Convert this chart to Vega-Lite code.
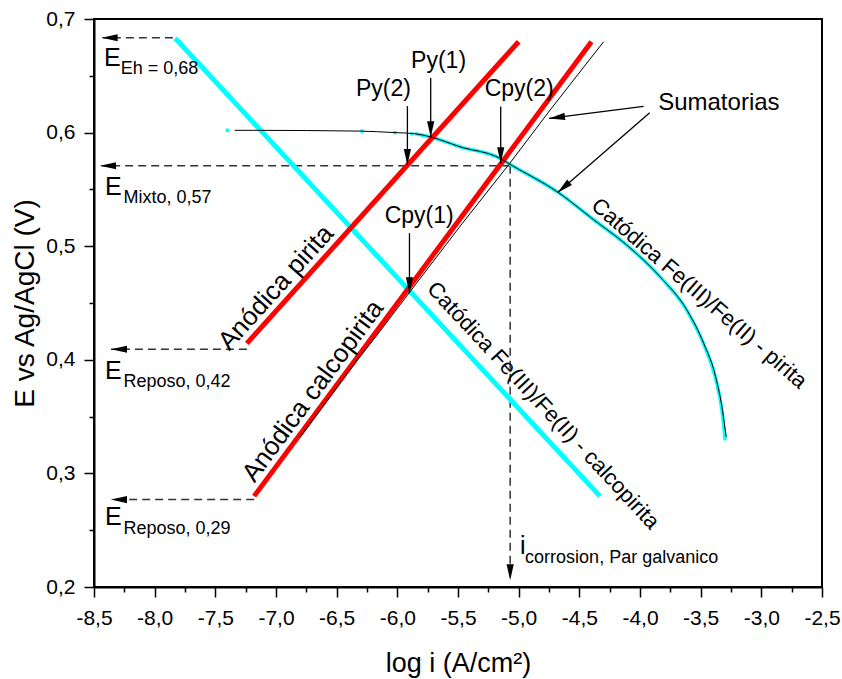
{
  "$schema": "https://vega.github.io/schema/vega-lite/v6.json",
  "width": 728,
  "height": 568,
  "autosize": {"type": "none"},
  "padding": {"left": 94, "top": 19, "right": 20, "bottom": 92},
  "background": "white",
  "config": {
    "font": "Liberation Sans",
    "view": {"stroke": "black", "strokeWidth": 2},
    "axis": {"grid": false, "domainColor": "black", "tickColor": "black", "labelColor": "black", "titleColor": "black", "labelFont": "Liberation Sans", "titleFont": "Liberation Sans", "titleFontWeight": "normal"}
  },
  "datasets": {
    "curves": [
      {"curve": "anod_py", "x": -7.24, "y": 0.4145}, {"curve": "anod_py", "x": -5.0, "y": 0.68},
      {"curve": "anod_cpy", "x": -7.18, "y": 0.28}, {"curve": "anod_cpy", "x": -4.40, "y": 0.68},
      {"curve": "cat_cpy", "x": -7.83, "y": 0.683}, {"curve": "cat_cpy", "x": -4.33, "y": 0.28},
      {"curve": "sum_anod", "x": -6.80, "y": 0.332}, {"curve": "sum_anod", "x": -6.33, "y": 0.40}, {"curve": "sum_anod", "x": -6.18, "y": 0.42}, {"curve": "sum_anod", "x": -5.895, "y": 0.46}, {"curve": "sum_anod", "x": -5.465, "y": 0.52}, {"curve": "sum_anod", "x": -5.08, "y": 0.572}, {"curve": "sum_anod", "x": -4.74, "y": 0.62}, {"curve": "sum_anod", "x": -4.30, "y": 0.68},
      {"curve": "cat_py", "x": -5.854, "y": 0.599}, {"curve": "cat_py", "x": -5.73, "y": 0.5963}, {"curve": "cat_py", "x": -5.483, "y": 0.5875}, {"curve": "cat_py", "x": -5.153, "y": 0.5773}, {"curve": "cat_py", "x": -5.07, "y": 0.572}, {"curve": "cat_py", "x": -4.672, "y": 0.5472}, {"curve": "cat_py", "x": -4.384, "y": 0.5235}, {"curve": "cat_py", "x": -4.108, "y": 0.5009}, {"curve": "cat_py", "x": -3.834, "y": 0.4730}, {"curve": "cat_py", "x": -3.614, "y": 0.4436}, {"curve": "cat_py", "x": -3.477, "y": 0.4143}, {"curve": "cat_py", "x": -3.380, "y": 0.3849}, {"curve": "cat_py", "x": -3.325, "y": 0.3555}, {"curve": "cat_py", "x": -3.298, "y": 0.3291},
      {"curve": "sum_cat", "x": -7.34, "y": 0.602}, {"curve": "sum_cat", "x": -7.19, "y": 0.602}, {"curve": "sum_cat", "x": -6.307, "y": 0.6013}, {"curve": "sum_cat", "x": -6.02, "y": 0.600}, {"curve": "sum_cat", "x": -5.854, "y": 0.599}, {"curve": "sum_cat", "x": -5.73, "y": 0.5963}, {"curve": "sum_cat", "x": -5.483, "y": 0.5875}, {"curve": "sum_cat", "x": -5.153, "y": 0.5773}, {"curve": "sum_cat", "x": -5.07, "y": 0.572}, {"curve": "sum_cat", "x": -4.672, "y": 0.5472}, {"curve": "sum_cat", "x": -4.384, "y": 0.5235}, {"curve": "sum_cat", "x": -4.108, "y": 0.5009}, {"curve": "sum_cat", "x": -3.834, "y": 0.4730}, {"curve": "sum_cat", "x": -3.612, "y": 0.4436}, {"curve": "sum_cat", "x": -3.474, "y": 0.4143}, {"curve": "sum_cat", "x": -3.376, "y": 0.3849}, {"curve": "sum_cat", "x": -3.320, "y": 0.3555}, {"curve": "sum_cat", "x": -3.29, "y": 0.332}
    ],
    "dots": [
      {"x": -7.40, "y": 0.602}, {"x": -6.29, "y": 0.6013}, {"x": -6.02, "y": 0.600}, {"x": -5.88, "y": 0.599}
    ],
    "guides": [
      {"name": "Eh", "x": -7.85, "y": 0.6835, "x2": -8.43, "y2": 0.6835},
      {"name": "Mixto", "x": -5.07, "y": 0.5708, "x2": -8.44, "y2": 0.5708},
      {"name": "Rep42", "x": -7.24, "y": 0.4093, "x2": -8.36, "y2": 0.4093},
      {"name": "Rep29", "x": -7.18, "y": 0.277, "x2": -8.36, "y2": 0.277},
      {"name": "icorr", "x": -5.07, "y": 0.5708, "x2": -5.07, "y2": 0.207}
    ],
    "stems": [
      {"name": "Py(2)", "x": -5.917, "y": 0.6233, "x2": -5.917, "y2": 0.5714},
      {"name": "Py(1)", "x": -5.725, "y": 0.648, "x2": -5.725, "y2": 0.596},
      {"name": "Cpy(2)", "x": -5.148, "y": 0.623, "x2": -5.148, "y2": 0.573},
      {"name": "Cpy(1)", "x": -5.90, "y": 0.5115, "x2": -5.90, "y2": 0.4586},
      {"name": "Sum1", "x": -3.97, "y": 0.623, "x2": -4.75, "y2": 0.6125},
      {"name": "Sum2", "x": -3.92, "y": 0.6175, "x2": -4.68, "y2": 0.547}
    ],
    "tips": [
      {"dir": "down", "x": -5.917, "y": 0.5714}, {"dir": "down", "x": -5.725, "y": 0.596}, {"dir": "down", "x": -5.148, "y": 0.573}, {"dir": "down", "x": -5.90, "y": 0.4586}, {"dir": "down", "x": -5.07, "y": 0.206},
      {"dir": "left", "x": -8.437, "y": 0.6835}, {"dir": "left", "x": -8.45, "y": 0.5708}, {"dir": "left", "x": -8.36, "y": 0.4093}, {"dir": "left", "x": -8.36, "y": 0.277},
      {"dir": "sum1", "x": -4.75, "y": 0.6125}, {"dir": "sum2", "x": -4.68, "y": 0.547}
    ],
    "labels": [
      {"kind": "point", "text": "Py(1)", "x": -5.66, "y": 0.663},
      {"kind": "point", "text": "Py(2)", "x": -6.115, "y": 0.6383},
      {"kind": "point", "text": "Cpy(2)", "x": -4.996, "y": 0.6383},
      {"kind": "point", "text": "Cpy(1)", "x": -5.82, "y": 0.5264},
      {"kind": "sum", "text": "Sumatorias", "x": -3.35, "y": 0.626},
      {"kind": "big", "text": "E", "x": -8.418, "y": 0.6589},
      {"kind": "big", "text": "E", "x": -8.409, "y": 0.5455},
      {"kind": "big", "text": "E", "x": -8.409, "y": 0.3834},
      {"kind": "big", "text": "E", "x": -8.409, "y": 0.2542},
      {"kind": "big", "text": "i", "x": -4.988, "y": 0.2292},
      {"kind": "sub", "text": "Eh = 0,68", "x": -8.28, "y": 0.6515},
      {"kind": "sub", "text": "Mixto, 0,57", "x": -8.257, "y": 0.5376},
      {"kind": "sub", "text": "Reposo, 0,42", "x": -8.257, "y": 0.376},
      {"kind": "sub", "text": "Reposo, 0,29", "x": -8.257, "y": 0.2469},
      {"kind": "sub", "text": "corrosion, Par galvanico", "x": -4.947, "y": 0.2213},
      {"kind": "anodpy", "text": "Anódica pirita", "x": -7.0, "y": 0.4635},
      {"kind": "anodcpy", "text": "Anódica calcopirita", "x": -6.695, "y": 0.3725},
      {"kind": "catcpy", "text": "Catódica Fe(III)/Fe(II) - calcopirita", "x": -4.797, "y": 0.3599},
      {"kind": "catpy", "text": "Catódica Fe(III)/Fe(II) - pirita", "x": -3.512, "y": 0.4586}
    ]
  },
  "encoding": {
    "x": {"field": "x", "type": "quantitative", "scale": {"domain": [-8.5, -2.5], "nice": false, "zero": false}, "axis": null},
    "y": {"field": "y", "type": "quantitative", "scale": {"domain": [0.2, 0.7], "nice": false, "zero": false}, "axis": null}
  },
  "layer": [
    {
      "data": {"name": "guides"},
      "mark": {"type": "rule", "color": "#333333", "strokeWidth": 1.5, "strokeDash": [8, 5]},
      "encoding": {
        "x": {"field": "x", "type": "quantitative", "scale": {"domain": [-8.5, -2.5], "nice": false, "zero": false},
          "axis": {"orient": "bottom", "values": [-8.25, -7.75, -7.25, -6.75, -6.25, -5.75, -5.25, -4.75, -4.25, -3.75, -3.25, -2.75], "tickSize": 5, "tickWidth": 1.5, "labels": false, "domain": false, "title": null}},
        "y": {"field": "y", "type": "quantitative", "scale": {"domain": [0.2, 0.7], "nice": false, "zero": false},
          "axis": {"orient": "left", "values": [0.25, 0.35, 0.45, 0.55, 0.65], "tickSize": 5, "tickWidth": 1.5, "labels": false, "domain": false, "title": null}},
        "x2": {"field": "x2"},
        "y2": {"field": "y2"}
      }
    },
    {
      "data": {"name": "curves"},
      "transform": [{"filter": "datum.curve === 'cat_cpy'"}],
      "mark": {"type": "line", "color": "#00FFFF", "strokeWidth": 5},
      "encoding": {
        "x": {"field": "x", "type": "quantitative", "scale": {"domain": [-8.5, -2.5], "nice": false, "zero": false},
          "axis": {"orient": "bottom", "values": [-8.5, -8, -7.5, -7, -6.5, -6, -5.5, -5, -4.5, -4, -3.5, -3, -2.5], "labelExpr": "replace(replace(format(datum.value, '.1f'), '.', ','), '\u2212', '-')", "labelFontSize": 21, "tickSize": 10, "tickWidth": 1.5, "domainWidth": 2, "labelPadding": 10, "labelFlush": false, "labelOverlap": false, "title": "log i (A/cm²)", "titleFontSize": 27, "titlePadding": 22}},
        "y": {"field": "y", "type": "quantitative", "scale": {"domain": [0.2, 0.7], "nice": false, "zero": false},
          "axis": {"orient": "left", "values": [0.2, 0.3, 0.4, 0.5, 0.6, 0.7], "labelExpr": "replace(format(datum.value, '.1f'), '.', ',')", "labelFontSize": 21, "tickSize": 10, "tickWidth": 1.5, "domainWidth": 2, "labelPadding": 9, "labelFlush": false, "labelOverlap": false, "title": "E vs Ag/AgCl (V)", "titleFontSize": 28, "titlePadding": 6}},
        "detail": {"field": "curve"}
      }
    },
    {
      "data": {"name": "curves"},
      "transform": [{"filter": "datum.curve === 'cat_py'"}],
      "mark": {"type": "line", "color": "#00FFFF", "strokeWidth": 3.5, "interpolate": "monotone"},
      "encoding": {"detail": {"field": "curve"}}
    },
    {
      "data": {"name": "dots"},
      "mark": {"type": "square", "color": "#00FFFF", "opacity": 1, "size": 12},
      "encoding": {}
    },
    {
      "data": {"name": "curves"},
      "transform": [{"filter": "datum.curve === 'anod_py' || datum.curve === 'anod_cpy'"}],
      "mark": {"type": "line", "color": "#FF0000", "strokeWidth": 5},
      "encoding": {"detail": {"field": "curve"}}
    },
    {
      "data": {"name": "curves"},
      "transform": [{"filter": "datum.curve === 'sum_anod'"}],
      "mark": {"type": "line", "color": "#000000", "strokeWidth": 1},
      "encoding": {"detail": {"field": "curve"}}
    },
    {
      "data": {"name": "curves"},
      "transform": [{"filter": "datum.curve === 'sum_cat'"}],
      "mark": {"type": "line", "color": "#000000", "strokeWidth": 1, "interpolate": "monotone"},
      "encoding": {"detail": {"field": "curve"}}
    },
    {
      "data": {"name": "stems"},
      "mark": {"type": "rule", "color": "#000000", "strokeWidth": 1.3},
      "encoding": {"x2": {"field": "x2"}, "y2": {"field": "y2"}}
    },
    {
      "data": {"name": "tips"},
      "transform": [{"filter": "datum.dir === 'down'"}],
      "mark": {"type": "point", "shape": "M-0.45,-2L0.45,-2L0,0Z", "filled": true, "color": "#000000", "opacity": 1, "size": 256, "angle": 0},
      "encoding": {}
    },
    {
      "data": {"name": "tips"},
      "transform": [{"filter": "datum.dir === 'left'"}],
      "mark": {"type": "point", "shape": "M-0.45,-2L0.45,-2L0,0Z", "filled": true, "color": "#000000", "opacity": 1, "size": 256, "angle": 90},
      "encoding": {}
    },
    {
      "data": {"name": "tips"},
      "transform": [{"filter": "datum.dir === 'sum1'"}],
      "mark": {"type": "point", "shape": "M-0.45,-2L0.45,-2L0,0Z", "filled": true, "color": "#000000", "opacity": 1, "size": 256, "angle": 82.6},
      "encoding": {}
    },
    {
      "data": {"name": "tips"},
      "transform": [{"filter": "datum.dir === 'sum2'"}],
      "mark": {"type": "point", "shape": "M-0.45,-2L0.45,-2L0,0Z", "filled": true, "color": "#000000", "opacity": 1, "size": 256, "angle": 48.8},
      "encoding": {}
    },
    {
      "data": {"name": "labels"},
      "transform": [{"filter": "datum.kind === 'point'"}],
      "mark": {"type": "text", "fontSize": 23, "align": "center", "baseline": "middle", "color": "#000000"},
      "encoding": {"text": {"field": "text"}}
    },
    {
      "data": {"name": "labels"},
      "transform": [{"filter": "datum.kind === 'sum'"}],
      "mark": {"type": "text", "fontSize": 24, "align": "center", "baseline": "middle", "color": "#000000"},
      "encoding": {"text": {"field": "text"}}
    },
    {
      "data": {"name": "labels"},
      "transform": [{"filter": "datum.kind === 'big'"}],
      "mark": {"type": "text", "fontSize": 25, "align": "left", "baseline": "alphabetic", "color": "#000000"},
      "encoding": {"text": {"field": "text"}}
    },
    {
      "data": {"name": "labels"},
      "transform": [{"filter": "datum.kind === 'sub'"}],
      "mark": {"type": "text", "fontSize": 18, "align": "left", "baseline": "alphabetic", "color": "#000000"},
      "encoding": {"text": {"field": "text"}}
    },
    {
      "data": {"name": "labels"},
      "transform": [{"filter": "datum.kind === 'anodpy'"}],
      "mark": {"type": "text", "fontSize": 26, "align": "center", "baseline": "middle", "angle": -48, "color": "#000000"},
      "encoding": {"text": {"field": "text"}}
    },
    {
      "data": {"name": "labels"},
      "transform": [{"filter": "datum.kind === 'anodcpy'"}],
      "mark": {"type": "text", "fontSize": 26, "align": "center", "baseline": "middle", "angle": -53.4, "color": "#000000"},
      "encoding": {"text": {"field": "text"}}
    },
    {
      "data": {"name": "labels"},
      "transform": [{"filter": "datum.kind === 'catcpy'"}],
      "mark": {"type": "text", "fontSize": 22, "align": "center", "baseline": "middle", "angle": 47, "color": "#000000"},
      "encoding": {"text": {"field": "text"}}
    },
    {
      "data": {"name": "labels"},
      "transform": [{"filter": "datum.kind === 'catpy'"}],
      "mark": {"type": "text", "fontSize": 22, "align": "center", "baseline": "middle", "angle": 41, "color": "#000000"},
      "encoding": {"text": {"field": "text"}}
    }
  ],
  "resolve": {"axis": {"x": "independent", "y": "independent"}}
}
